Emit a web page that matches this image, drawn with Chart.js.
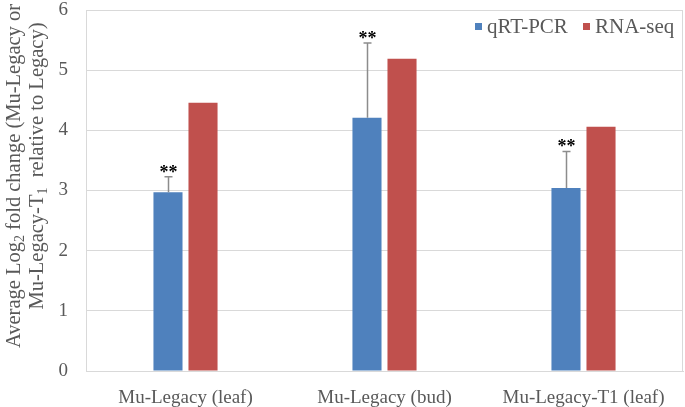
<!DOCTYPE html>
<html>
<head>
<meta charset="utf-8">
<script src="https://cdn.jsdelivr.net/npm/chart.js@4.4.1/dist/chart.umd.min.js"></script>
<style>
  html, body { margin: 0; padding: 0; background: #fff; }
  #wrap { width: 685px; height: 407px; position: relative; }
</style>
</head>
<body>
<div id="wrap"><canvas id="foldChart"></canvas></div>
<script>
// data
const categories = ['Mu-Legacy (leaf)', 'Mu-Legacy (bud)', 'Mu-Legacy-T1 (leaf)'];
const qpcrValues = [2.97, 4.21, 3.04];
const rnaseqValues = [4.46, 5.19, 4.06];
const qpcrErrors = [0.26, 1.24, 0.61];
const sigMarks = ['**', '**', '**'];
const yTicks = [0, 1, 2, 3, 4, 5, 6];

const BLUE = '#4F81BD';
const RED = '#C0504D';
const FONT = "'Liberation Serif', 'Times New Roman', serif";

// error bars (upper only) + stars
const errorBarPlugin = {
    id: 'errorBars',
    afterDatasetsDraw(chart) {
        const ctx = chart.ctx;
        const meta = chart.getDatasetMeta(0);
        const y = chart.scales.y;
        ctx.save();
        meta.data.forEach((bar, i) => {
            const top = y.getPixelForValue(qpcrValues[i] + qpcrErrors[i]);
            const x = Math.round(bar.x) + 0.5;
            ctx.strokeStyle = '#8c8c8c';
            ctx.lineWidth = 1.5;
            ctx.beginPath();
            ctx.moveTo(x, bar.y);
            ctx.lineTo(x, top);
            ctx.moveTo(x - 4, top);
            ctx.lineTo(x + 4, top);
            ctx.stroke();

            ctx.fillStyle = '#000';
            ctx.font = 'bold 18px ' + FONT;
            ctx.textAlign = 'center';
            ctx.textBaseline = 'alphabetic';
            ctx.fillText(sigMarks[i], x, top + 1);
        });
        ctx.restore();
    }
};

// frame on the right side of the plot
const framePlugin = {
    id: 'frame',
    beforeDatasetsDraw(chart) {
        const a = chart.chartArea;
        const ctx = chart.ctx;
        ctx.save();
        ctx.strokeStyle = '#d9d9d9';
        ctx.lineWidth = 1;
        ctx.beginPath();
        ctx.moveTo(a.right - 0.5, a.top);
        ctx.lineTo(a.right - 0.5, a.bottom);
        ctx.stroke();
        ctx.restore();
    }
};

// legend at top right
const legendPlugin = {
    id: 'customLegend',
    afterDraw(chart) {
        const ctx = chart.ctx;
        const items = [
            { label: 'qRT-PCR', color: BLUE, x: 475 },
            { label: 'RNA-seq', color: RED, x: 583 }
        ];
        ctx.save();
        ctx.font = '21px ' + FONT;
        ctx.textBaseline = 'middle';
        ctx.textAlign = 'left';
        items.forEach(it => {
            ctx.fillStyle = it.color;
            ctx.fillRect(it.x, 23, 7, 7);
            ctx.fillStyle = '#595959';
            ctx.fillText(it.label, it.x + 12, 27);
        });
        ctx.restore();
    }
};

// y axis title, two lines, with subscripts
const yTitlePlugin = {
    id: 'yTitle',
    afterDraw(chart) {
        const ctx = chart.ctx;
        const lines = [
            { x: 15, cy: 176, parts: [['Average Log', 0], ['2', 1], [' fold change (Mu-Legacy or', 0]] },
            { x: 38, cy: 166, parts: [['Mu-Legacy-T', 0], ['1', 1], ['  relative to Legacy)', 0]] }
        ];
        ctx.save();
        ctx.fillStyle = '#595959';
        ctx.textBaseline = 'middle';
        ctx.textAlign = 'left';
        lines.forEach(line => {
            let total = 0;
            line.parts.forEach(p => {
                ctx.font = (p[1] ? '14px ' : '20.5px ') + FONT;
                total += ctx.measureText(p[0]).width;
            });
            ctx.save();
            ctx.translate(line.x, line.cy);
            ctx.rotate(-Math.PI / 2);
            let pos = -total / 2;
            line.parts.forEach(p => {
                ctx.font = (p[1] ? '14px ' : '20.5px ') + FONT;
                ctx.fillText(p[0], pos, p[1] ? 5 : 0);
                pos += ctx.measureText(p[0]).width;
            });
            ctx.restore();
        });
        ctx.restore();
    }
};

const ctx = document.getElementById('foldChart').getContext('2d');
new Chart(ctx, {
    type: 'bar',
    data: {
        labels: categories,
        datasets: [
            { label: 'qRT-PCR', data: qpcrValues, backgroundColor: BLUE },
            { label: 'RNA-seq', data: rnaseqValues, backgroundColor: RED }
        ]
    },
    options: {
        responsive: true,
        maintainAspectRatio: false,
        animation: false,
        categoryPercentage: 0.352,
        barPercentage: 0.83,
        layout: { padding: { left: 50, top: 10, right: 2, bottom: 0 } },
        plugins: {
            legend: { display: false },
            tooltip: { enabled: false }
        },
        scales: {
            x: {
                grid: { display: false },
                border: { color: '#d9d9d9' },
                ticks: { color: '#595959', font: { family: FONT, size: 19 }, padding: 8 },
                afterFit: s => { s.height = 36; s.paddingLeft = 0; s.paddingRight = 0; }
            },
            y: {
                min: 0,
                max: 6,
                afterBuildTicks: s => { s.ticks = yTicks.map(v => ({ value: v })); },
                grid: { color: '#d9d9d9', drawTicks: false },
                border: { color: '#d9d9d9' },
                ticks: { color: '#595959', font: { family: FONT, size: 19 }, padding: 18 },
                afterFit: s => { s.width = 36; s.paddingTop = 0; s.paddingBottom = 0; }
            }
        }
    },
    plugins: [framePlugin, errorBarPlugin, legendPlugin, yTitlePlugin]
});
</script>
</body>
</html>
